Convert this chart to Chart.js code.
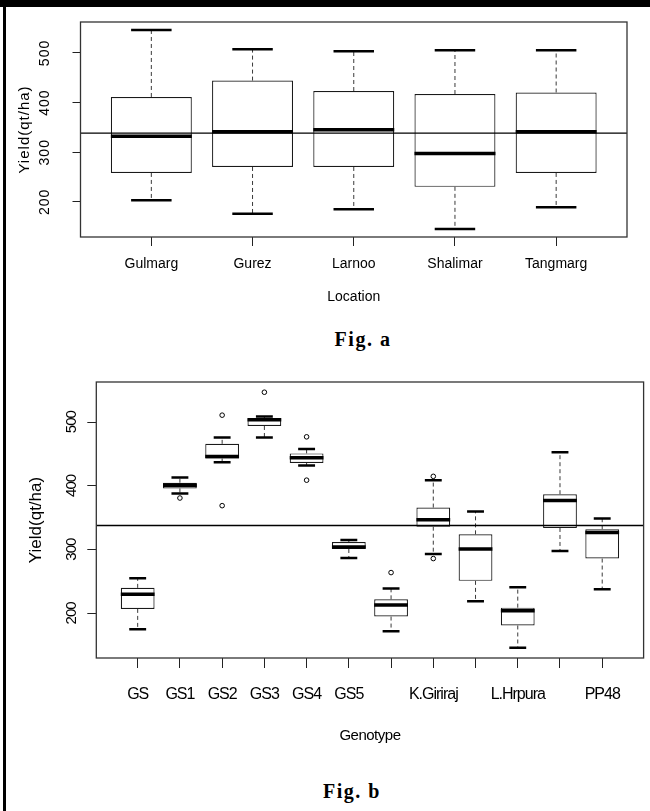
<!DOCTYPE html>
<html>
<head>
<meta charset="utf-8">
<title>Yield boxplots</title>
<script src="https://cdn.jsdelivr.net/npm/chart.js@4.4.1/dist/chart.umd.min.js"></script>
<style>
  html, body { margin: 0; padding: 0; background: #fff; }
  body { position: relative; width: 650px; height: 811px; overflow: hidden; }
  canvas { position: absolute; left: 0; }
  #figA { top: 0; }
  #figB { top: 340px; }
  .edge { position: absolute; background: #000; z-index: 2; }
  .caption {
    position: absolute; transform: translateX(-50%); white-space: nowrap;
    font: bold 20px/20px "Liberation Serif", "Times New Roman", serif;
    letter-spacing: 1.5px; color: #000;
  }
</style>
</head>
<body>
<div class="edge" style="left:0;top:0;width:650px;height:7px"></div>
<div class="edge" style="left:3px;top:0;width:3px;height:811px"></div>
<canvas id="figA" width="650" height="320"></canvas>
<div class="caption" style="left:363px;top:329px">Fig. a</div>
<canvas id="figB" width="650" height="420"></canvas>
<div class="caption" style="left:352px;top:781px">Fig. b</div>
<script>
const SANS = '"Liberation Sans", Arial, Helvetica, sans-serif';

// Fig. a - yield by location
const locations  = ['Gulmarg', 'Gurez', 'Larnoo', 'Shalimar', 'Tangmarg'];
const locLow     = [203, 176, 185, 145, 189];
const locQ1      = [258, 270, 270, 230, 258];
const locMedian  = [332, 341, 345, 297, 341];
const locQ3      = [411, 444, 423, 417, 420];
const locHigh    = [546, 507, 503, 505, 505];
const locOutAt   = [];
const locOutVal  = [];

// Fig. b - yield by genotype (three genotypes carry no label in the figure)
const genotypes  = ['GS', 'GS1', 'GS2', 'GS3', 'GS4', 'GS5', '', 'K.Giriraj', '', 'L.Hrpura', '', 'PP48'];
const genLow     = [175, 388, 437, 476, 432, 287, 172, 293, 219, 146, 298, 238];
const genQ1      = [207, 396, 443, 494, 436, 301, 195, 336, 251, 181, 334, 286];
const genMedian  = [230, 401, 446, 504, 444, 304, 213, 347, 301, 204, 377, 327];
const genQ3      = [240, 405, 466, 506, 451, 312, 222, 366, 324, 209, 387, 332];
const genHigh    = [255, 413, 476, 509, 458, 315, 239, 409, 360, 241, 453, 349];
const genOutAt   = [2, 3, 3, 4, 5, 5, 7, 8, 8];
const genOutVal  = [381, 511, 369, 547, 477, 409, 264, 415, 286];

const meanYield = 338;
const yTicks = [200, 300, 400, 500];

// whiskers, staples, medians, mean line and plot frame
function boxPlugin(p) {
  return {
    id: 'boxes',
    afterDatasetsDraw(chart) {
      const { ctx, chartArea: a, scales: { y } } = chart;
      const bars = chart.getDatasetMeta(0).data;
      const seg = (x1, y1, x2, y2) => { ctx.beginPath(); ctx.moveTo(x1, y1); ctx.lineTo(x2, y2); ctx.stroke(); };
      ctx.save();
      ctx.beginPath(); ctx.rect(a.left, a.top, a.width, a.height); ctx.clip();
      bars.forEach((bar, i) => {
        const cx = bar.x, half = bar.width / 2;
        const hi = y.getPixelForValue(p.high[i]), lo = y.getPixelForValue(p.low[i]);
        const q1 = y.getPixelForValue(p.q1[i]), q3 = y.getPixelForValue(p.q3[i]);
        ctx.strokeStyle = '#3a3a3a'; ctx.lineWidth = 1; ctx.setLineDash([4, 3]);
        seg(cx, q3, cx, hi); seg(cx, q1, cx, lo);
        ctx.setLineDash([]); ctx.strokeStyle = '#000'; ctx.lineWidth = p.capWidth;
        seg(cx - half / 2, hi, cx + half / 2, hi); seg(cx - half / 2, lo, cx + half / 2, lo);
        ctx.lineWidth = p.medianWidth;
        const m = y.getPixelForValue(p.median[i]);
        seg(cx - half, m, cx + half, m);
      });
      ctx.lineWidth = p.refWidth; ctx.strokeStyle = '#000';
      const r = y.getPixelForValue(meanYield);
      seg(a.left, r, a.right, r);
      ctx.restore();
      ctx.save();
      ctx.strokeStyle = '#333'; ctx.lineWidth = 1.3;
      ctx.strokeRect(a.left, a.top, a.width, a.height);
      ctx.restore();
    }
  };
}

// letter spacing for some axis texts (R device look)
function spacingPlugin(map) {
  return {
    id: 'spacing',
    beforeDraw(chart) {
      for (const key in map) {
        const [axis, method] = key.split('.');
        const scale = chart.scales[axis];
        if (!scale || scale['_sp' + method]) continue;
        const orig = scale[method];
        scale[method] = function (...args) {
          const c = this.ctx, prev = c.letterSpacing;
          c.letterSpacing = map[key];
          orig.apply(this, args);
          c.letterSpacing = prev;
        };
        scale['_sp' + method] = true;
      }
    }
  };
}

function drawBoxChart(id, p) {
  const n = p.labels.length;
  const all = p.low.concat(p.high, p.outVal);
  const dMin = Math.min(...all), dMax = Math.max(...all);
  const yPad = 0.04 * (dMax - dMin);
  const xPad = 0.04 * n;

  return new Chart(document.getElementById(id), {
    type: 'bar',
    data: {
      datasets: [
        {
          data: p.labels.map((l, i) => ({ x: i + 1, y: [p.q1[i], p.q3[i]] })),
          backgroundColor: '#fff',
          borderColor: '#1a1a1a',
          borderWidth: p.boxWidth,
          borderSkipped: false,
          inflateAmount: 0,
          barPercentage: 0.8,
          categoryPercentage: 1
        },
        {
          type: 'scatter',
          data: p.outAt.map((x, i) => ({ x: x, y: p.outVal[i] })),
          pointStyle: 'circle',
          pointRadius: p.dot,
          pointBorderWidth: 1,
          pointBorderColor: '#000',
          pointBackgroundColor: 'rgba(0,0,0,0)'
        }
      ]
    },
    options: {
      responsive: false,
      animation: false,
      events: [],
      layout: { padding: p.pad },
      plugins: { legend: { display: false }, tooltip: { enabled: false } },
      scales: {
        x: {
          type: 'linear',
          offset: false,
          min: 0.5 - xPad,
          max: n + 0.5 + xPad,
          afterBuildTicks: s => { s.ticks = p.labels.map((l, i) => ({ value: i + 1 })); },
          afterFit: s => { s.height = p.xHeight; s.paddingLeft = 0; s.paddingRight = 0; },
          grid: { offset: false, drawOnChartArea: false, tickLength: p.xTick, color: '#222' },
          border: { display: false },
          ticks: {
            autoSkip: false, maxRotation: 0, padding: p.xTickPad, color: '#000',
            font: { family: SANS, size: p.xFont },
            callback: (v, i) => p.labels[i]
          },
          title: {
            display: true, text: p.xTitle, color: '#000',
            font: { family: SANS, size: p.xTitleFont },
            padding: { top: 0, bottom: p.xTitlePad }
          }
        },
        y: {
          min: dMin - yPad,
          max: dMax + yPad,
          afterBuildTicks: s => { s.ticks = yTicks.map(v => ({ value: v })); },
          afterFit: s => { s.width = p.yWidth; s.paddingTop = 0; s.paddingBottom = 0; },
          grid: { drawOnChartArea: false, tickLength: p.yTick, color: '#222' },
          border: { display: false },
          ticks: {
            minRotation: 90, maxRotation: 90, crossAlign: 'near',
            labelOffset: p.yLabelShift,
            padding: p.yTickPad, color: '#000',
            font: { family: SANS, size: p.yFont }
          },
          title: {
            display: true, text: 'Yield(qt/ha)', color: '#000',
            font: { family: SANS, size: p.yTitleFont },
            padding: { top: p.yTitlePad, bottom: 0 }
          }
        }
      }
    },
    plugins: [boxPlugin(p), spacingPlugin(p.spacing)]
  });
}

drawBoxChart('figA', {
  labels: locations, low: locLow, q1: locQ1, median: locMedian, q3: locQ3, high: locHigh,
  outAt: locOutAt, outVal: locOutVal,
  xTitle: 'Location',
  pad: { top: 22, right: 23, left: 0, bottom: 0 },
  xHeight: 83, yWidth: 80.5,
  xTick: 9, yTick: 8,
  xTickPad: 10, xFont: 14, xTitleFont: 14, xTitlePad: 14.7,
  yFont: 14, yTickPad: 27.5, yLabelShift: -13, yTitleFont: 15, yTitlePad: 15.5,
  boxWidth: 1.2, capWidth: 2.5, medianWidth: 3.5, refWidth: 1.3, dot: 2.2,
  spacing: { 'y.drawLabels': '1px', 'y.drawTitle': '1px' }
});

drawBoxChart('figB', {
  labels: genotypes, low: genLow, q1: genQ1, median: genMedian, q3: genQ3, high: genHigh,
  outAt: genOutAt, outVal: genOutVal,
  xTitle: 'Genotype',
  pad: { top: 42, right: 6.4, left: 0, bottom: 0 },
  xHeight: 102, yWidth: 96.3,
  xTick: 10, yTick: 9,
  xTickPad: 17, xFont: 16, xTitleFont: 15, xTitlePad: 15,
  yFont: 15, yTickPad: 15.6, yLabelShift: -11, yTitleFont: 17, yTitlePad: 26,
  boxWidth: 1.2, capWidth: 2.5, medianWidth: 3.5, refWidth: 1.5, dot: 2.3,
  spacing: { 'x.drawLabels': '-1px', 'y.drawLabels': '-1px', 'x.drawTitle': '-0.5px' }
});
</script>
</body>
</html>
